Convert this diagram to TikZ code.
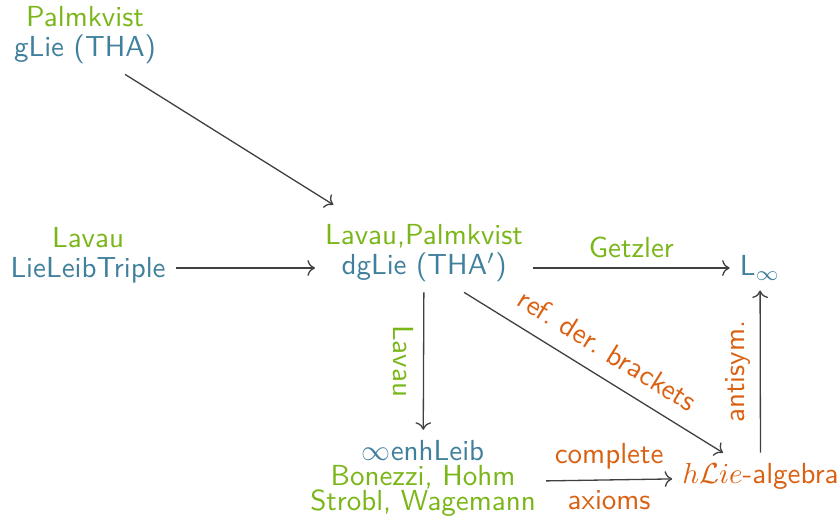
\documentclass[tikz,border=0pt]{standalone}
\usepackage{amsmath, amssymb}
\usepackage{tikz}
\usetikzlibrary{arrows.meta}

\definecolor{namegreen}{RGB}{122,182,24}
\definecolor{algblue}{RGB}{64,128,156}
\definecolor{maporange}{RGB}{218,96,18}
\definecolor{arrowgray}{RGB}{64,64,64}

\begin{document}
\begin{tikzpicture}[
      alg/.style={font=\sffamily\fontsize{10}{10.3}\selectfont, align=center, text=algblue},
      arrow/.style={->, arrowgray, line width=0.45pt},
      who/.style={font=\sffamily, text=namegreen},
      how/.style={font=\sffamily, text=maporange}
    ]
      \useasboundingbox (0,0) rectangle (10.18,6.266);

      % Objects
      \node[alg] (glie) at (1.03,5.836) {\textcolor{namegreen}{Palmkvist}\\gLie (THA)};
      \node[alg] (triple) at (1.067,3.175) {\textcolor{namegreen}{Lavau}\\LieLeibTriple};
      \node[alg] (dglie) at (5.139,3.194) {\textcolor{namegreen}{Lavau,Palmkvist}\\dgLie (THA$'$)};
      \node[alg] (linf) at (9.211,3.018) {L$_\infty$};
      \node[alg, font=\sffamily\fontsize{10}{8.6}\selectfont] (enh) at (5.127,0.473)
        {$\infty$enhLeib\\\textcolor{namegreen}{Bonezzi, Hohm}\\\textcolor{namegreen}{Strobl, Wagemann}};
      \node[alg, text=maporange] (hlie) at (9.217,0.497) {$h\mathcal{L}ie$-algebra};

      % Arrows
      \draw[arrow] ([xshift=0.485cm]glie.south) -- ([xshift=-1.1cm, yshift=0.12cm]dglie.north);
      \draw[arrow] (triple.east |- linf) -- (dglie.west |- linf);
      \draw[arrow] (dglie.east |- linf) -- node[above, who] {Getzler} (linf);
      \draw[arrow] (dglie) -- node[midway, rotate=-90, anchor=north, who] {Lavau} (enh);
      \draw[arrow] ([xshift=0.485cm]dglie.south) -- node[sloped, above=2pt, how] {ref.\ der.\ brackets} (hlie);
      \draw[arrow] ([yshift=-1pt]enh.east) -- node[above, how] {complete} node[below, how] {axioms} ([yshift=-1pt]hlie.west);
      \draw[arrow] (hlie) -- node[midway, rotate=90, anchor=south, how] {antisym.} (linf);
    \end{tikzpicture}
\end{document}
